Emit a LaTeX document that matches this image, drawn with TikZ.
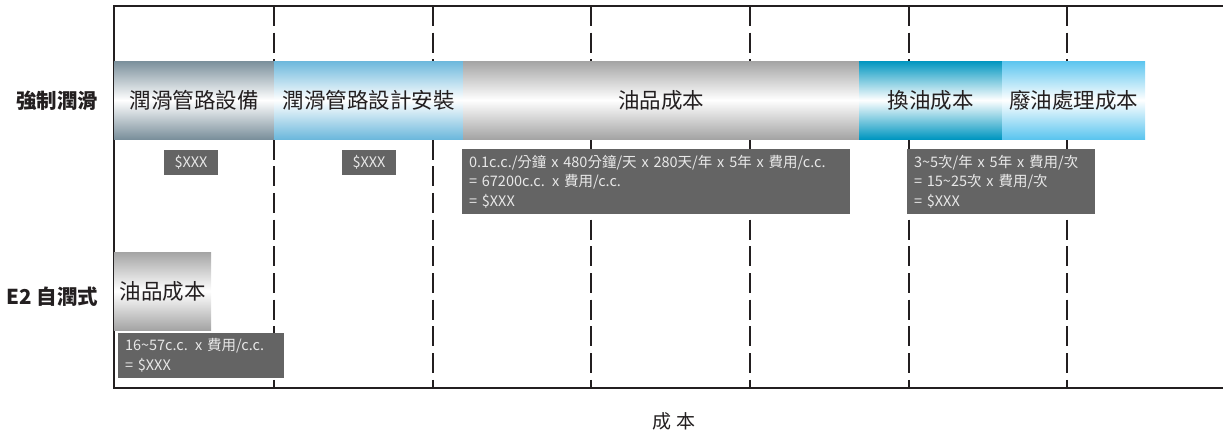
\documentclass[tikz,border=0pt]{standalone}
\usepackage{fontspec}
\setmainfont{Noto Sans CJK TC}
\definecolor{ink}{HTML}{231F20}
\definecolor{boxgray}{HTML}{646464}
\definecolor{boxtext}{HTML}{E8E8E8}
\definecolor{steel}{HTML}{7A8F9B}
\definecolor{lblue}{HTML}{6CB8DC}
\definecolor{silver}{HTML}{A4A4A4}
\definecolor{teal}{HTML}{0096C0}
\definecolor{sky}{HTML}{5BC5EF}
\begin{document}
\begin{tikzpicture}[x=1pt,y=-1pt,
  axis/.style={draw=ink,line width=1.4pt},
  grid/.style={draw=ink,line width=1.2pt,dash pattern=on 20pt off 6.7pt},
  bar/.style={anchor=north west,inner sep=0pt,outer sep=0pt,minimum height=78pt,
     font=\fontsize{21.5}{25}\selectfont,text=ink,top color=#1,bottom color=#1,middle color=white},
  costbox/.style={anchor=north west,fill=boxgray,text=boxtext,inner sep=0pt,outer sep=0pt,
     font=\fontsize{14.5}{19.5}\selectfont},
  rowlabel/.style={anchor=east,text=ink,font=\fontsize{20.5}{25}\selectfont\bfseries}]
\useasboundingbox (0,0) rectangle (1223,432);
% grid
\foreach \gx in {274,433,591,750,909,1067}{\draw[grid] (\gx,6) -- (\gx,388);}
% axes
\coordinate (tl) at (114,6);
\coordinate (tr) at (1223,6);
\coordinate (bl) at (114,388);
\coordinate (br) at (1223,388);
\draw[axis] (tr) -- (tl) -- (bl) -- (br);
% row 1 bars
\node[bar=steel,minimum width=160pt] (b1) at (114,61) {潤滑管路設備};
\node[bar=lblue,minimum width=189pt] (b2) at (274,61) {潤滑管路設計安裝};
\node[bar=silver,minimum width=396pt] (b3) at (463,61) {油品成本};
\node[bar=teal,minimum width=143pt] (b4) at (859,61) {換油成本};
\node[bar=sky,minimum width=143pt] (b5) at (1002,61) {廢油處理成本};
% row 1 cost boxes
\node[costbox,minimum width=54pt,minimum height=25pt] (c1) at (164,150) {\$XXX};
\node[costbox,minimum width=54pt,minimum height=25pt] (c2) at (342,150) {\$XXX};
\node[costbox,minimum width=388pt,minimum height=65pt,text width=374pt,align=left,inner xsep=6pt] (c3) at (462,149)
  {0.1c.c./分鐘 x 480分鐘/天 x 280天/年 x 5年 x 費用/c.c.\\= 67200c.c. x 費用/c.c.\\= \$XXX};
\node[costbox,minimum width=188pt,minimum height=65pt,text width=174pt,align=left,inner xsep=6pt] (c4) at (907,149)
  {3\textasciitilde5次/年 x 5年 x 費用/次\\= 15\textasciitilde25次 x 費用/次\\= \$XXX};
% row 2
\node[bar=silver,minimum width=97pt] (e1) at (114,252) {油品成本};
\node[costbox,minimum width=166pt,minimum height=45pt,text width=152pt,align=left,inner xsep=6pt] (e2) at (118,333)
  {16\textasciitilde57c.c. x 費用/c.c.\\= \$XXX};
% labels
\node[rowlabel] (r1) at (102,101) {強制潤滑};
\node[rowlabel] (r2) at (102,297) {E2 自潤式};
\node[text=ink,font=\fontsize{19}{22}\selectfont] (xl) at (674,421) {成 本};
\end{tikzpicture}
\end{document}
